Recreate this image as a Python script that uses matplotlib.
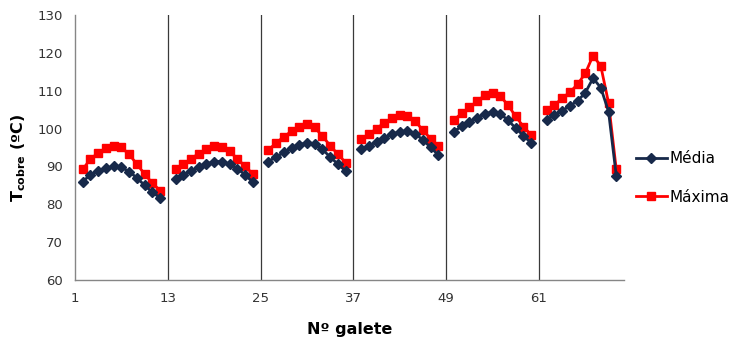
import matplotlib
matplotlib.use("Agg")
import matplotlib.pyplot as plt
import numpy as np

# First galete of each measured group (the preceding galete has no reading)
group_start = [2, 14, 26, 38, 50, 62]

media = [
    [86.0, 87.8, 88.8, 89.5, 90.0, 89.8, 88.6, 87.0, 85.0, 83.2, 81.7],
    [86.7, 87.8, 88.8, 89.8, 90.6, 91.3, 91.3, 90.6, 89.4, 87.8, 85.8],
    [91.3, 92.5, 93.7, 94.8, 95.7, 96.3, 96.0, 94.5, 92.5, 90.6, 88.8],
    [94.5, 95.5, 96.5, 97.5, 98.5, 99.2, 99.4, 98.6, 97.0, 95.0, 93.0],
    [99.2, 100.6, 101.8, 102.9, 103.9, 104.4, 103.9, 102.2, 100.1, 98.1, 96.2],
    [102.3, 103.6, 104.7, 106.0, 107.3, 109.5, 113.3, 110.8, 104.5, 87.5],
]

maxima = [
    [89.2, 92.0, 93.5, 94.9, 95.4, 95.0, 93.2, 90.6, 88.0, 85.6, 83.6],
    [89.2, 90.6, 92.0, 93.4, 94.5, 95.3, 95.0, 94.0, 92.0, 90.0, 88.0],
    [94.3, 96.2, 97.8, 99.3, 100.5, 101.2, 100.3, 98.0, 95.5, 93.2, 91.0],
    [97.2, 98.5, 100.0, 101.5, 102.8, 103.5, 103.2, 102.0, 99.5, 97.3, 95.3],
    [102.3, 104.0, 105.6, 107.2, 108.8, 109.4, 108.6, 106.2, 103.2, 100.5, 98.3],
    [104.9, 106.2, 108.0, 109.6, 111.7, 114.6, 119.3, 116.5, 106.8, 89.2],
]

xtick_labels = [1, 13, 25, 37, 49, 61]
yticks = [60, 70, 80, 90, 100, 110, 120, 130]

c_media = "#17294a"
c_max = "#ff0000"

fig = plt.figure(figsize=(7.32, 3.42), dpi=100)
ax = fig.add_axes([75 / 732, 62 / 342, (624 - 75) / 732, (280 - 15) / 342])

# vertical separators between groups
for xv in xtick_labels[1:]:
    ax.axvline(xv, color="#3a3a3a", lw=0.9, zorder=1)

for i, (start, mx, md) in enumerate(zip(group_start, maxima, media)):
    xm = np.arange(start, start + len(mx))
    xd = np.arange(start, start + len(md))
    ax.plot(xm, mx, color=c_max, lw=2.0, marker="s", ms=5.6, mec=c_max,
            mfc=c_max, zorder=3, label="Máxima" if i == 0 else None)
    ax.plot(xd, md, color=c_media, lw=2.0, marker="D", ms=4.8, mec=c_media,
            mfc=c_media, zorder=4, label="Média" if i == 0 else None)

ax.set_xlim(1, 72)
ax.set_ylim(60, 130)
ax.set_xticks(xtick_labels)
ax.set_xticklabels([str(v) for v in xtick_labels])
ax.set_yticks(yticks)
ax.tick_params(axis="both", length=0, labelsize=9.5, colors="#333333")
ax.tick_params(axis="x", pad=9)
ax.tick_params(axis="y", pad=9)

for side in ("top", "right"):
    ax.spines[side].set_visible(False)
for side in ("left", "bottom"):
    ax.spines[side].set_color("#868686")
    ax.spines[side].set_linewidth(1.0)

ax.set_xlabel("Nº galete", fontsize=11.5, fontweight="bold", labelpad=12)
ax.set_ylabel(r"T$_{\mathbf{cobre}}$ (ºC)", fontsize=11.5, fontweight="bold")
ax.yaxis.set_label_coords(-0.085, 0.46)

handles, labels = ax.get_legend_handles_labels()
order = [labels.index("Média"), labels.index("Máxima")]
fig.legend([handles[k] for k in order], [labels[k] for k in order],
           loc="upper left", bbox_to_anchor=(630 / 732, 1 - 145 / 342),
           frameon=False, fontsize=11, handlelength=2.0, handletextpad=0.2,
           labelspacing=1.55, borderaxespad=0)

fig.savefig("out.png", dpi=100)
